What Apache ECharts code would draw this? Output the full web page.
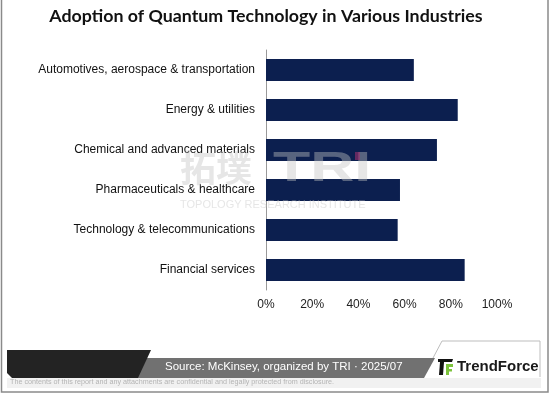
<!DOCTYPE html>
<html><head><meta charset="utf-8">
<script src="https://cdn.jsdelivr.net/npm/echarts@6/dist/echarts.min.js"></script>
<style>html,body{margin:0;padding:0;background:#fff}#c{width:550px;height:395px}</style>
</head><body><div id="c"></div>
<script>
const titleText = 'Adoption of Quantum Technology in Various Industries';
const categories = [
  'Automotives, aerospace & transportation',
  'Energy & utilities',
  'Chemical and advanced materials',
  'Pharmaceuticals & healthcare',
  'Technology & telecommunications',
  'Financial services'
];
const values = [64, 83, 74, 58, 57, 86];
const sourceText = 'Source: McKinsey, organized by TRI \u00b7 2025/07';
const disclaimerText = 'The contents of this report and any attachments are confidential and legally protected from disclosure.';

const chart = echarts.init(document.getElementById('c'), null, {renderer: 'canvas'});
const wm = {fill: '#c4c4c4', opacity: 0.42};
chart.setOption({
  animation: false,
  backgroundColor: '#fff',
  title: {
    text: titleText, left: 261, textAlign: 'center', top: 2,
    textStyle: {fontFamily: 'Lato', fontWeight: 'bold', fontSize: 17.8, color: '#111'}
  },
  grid: {left: 266, right: 53, top: 50, bottom: 105, containLabel: false},
  xAxis: {
    type: 'value', min: 0, max: 100, interval: 20,
    axisLine: {show: false}, axisTick: {show: false}, splitLine: {show: false},
    axisLabel: {formatter: '{value}%', fontFamily: 'Liberation Sans', fontSize: 12, color: '#222', margin: 9}
  },
  yAxis: {
    type: 'category', data: categories, inverse: true,
    axisLine: {show: true, lineStyle: {color: '#999', width: 1}},
    axisTick: {show: false},
    axisLabel: {fontFamily: 'Liberation Sans', fontSize: 12, color: '#111', margin: 11}
  },
  series: [{
    type: 'bar', data: values, barCategoryGap: '45%',
    itemStyle: {color: '#0c1f4f'}
  }],
  graphic: [
    // watermark
    {type: 'text', z: 100, left: 180, top: 150, style: Object.assign({text: '拓墣', font: 'bold 36px "Noto Sans CJK SC"'}, wm)},
    {type: 'text', z: 100, x: 273, y: 148, scaleX: 1.45, style: Object.assign({text: 'TRI', font: 'bold 42px "Liberation Sans"'}, wm)},
    {type: 'rect', z: 100, shape: {x: 355, y: 152, width: 5, height: 8}, style: {fill: '#a0306e', opacity: 0.6}},
    {type: 'text', z: 100, left: 180, top: 199, style: Object.assign({text: 'TOPOLOGY RESEARCH INSTITUTE', font: '11px "Liberation Sans"'}, wm)},
    // footer
    {type: 'rect', shape: {x: 7, y: 378, width: 534, height: 10}, style: {fill: '#f1f1f1'}},
    {type: 'polyline', shape: {points: [[433, 358], [442, 341], [540, 341], [540, 377]]}, style: {stroke: '#bdbdbd', fill: null, lineWidth: 1}},
    {type: 'polygon', shape: {points: [[140, 358], [435, 358], [424, 378], [136, 378]]}, style: {fill: '#717171'}},
    {type: 'polygon', shape: {points: [[7, 350], [151, 350], [138, 378], [12, 378], [7, 373]]}, style: {fill: '#232323'}},
    {type: 'text', left: 165, top: 361, style: {text: sourceText, font: '11.5px "Liberation Sans"', fill: '#fff'}},
    {type: 'text', left: 10, top: 379, style: {text: disclaimerText, font: '7.2px "Liberation Sans"', fill: '#b4b4b4'}},
    // TrendForce logo
    {type: 'polygon', shape: {points: [[438, 359], [453, 359], [452, 362], [438, 362]]}, style: {fill: '#111'}},
    {type: 'polygon', shape: {points: [[440, 362], [444, 362], [443, 375], [439, 375]]}, style: {fill: '#111'}},
    {type: 'rect', shape: {x: 446, y: 364, width: 3, height: 11}, style: {fill: '#7cc23c'}},
    {type: 'rect', shape: {x: 446, y: 364, width: 7, height: 3}, style: {fill: '#7cc23c'}},
    {type: 'rect', shape: {x: 446, y: 369, width: 6, height: 2.5}, style: {fill: '#7cc23c'}},
    {type: 'text', left: 457, top: 359, style: {text: 'TrendForce', font: 'bold 15px "Liberation Sans"', fill: '#1a1a1a'}},
    // frame
    {type: 'rect', shape: {x: 1.5, y: -5, width: 546.5, height: 397}, style: {fill: null, stroke: '#8a8a8a', lineWidth: 1.5}}
  ]
});
</script></body></html>
